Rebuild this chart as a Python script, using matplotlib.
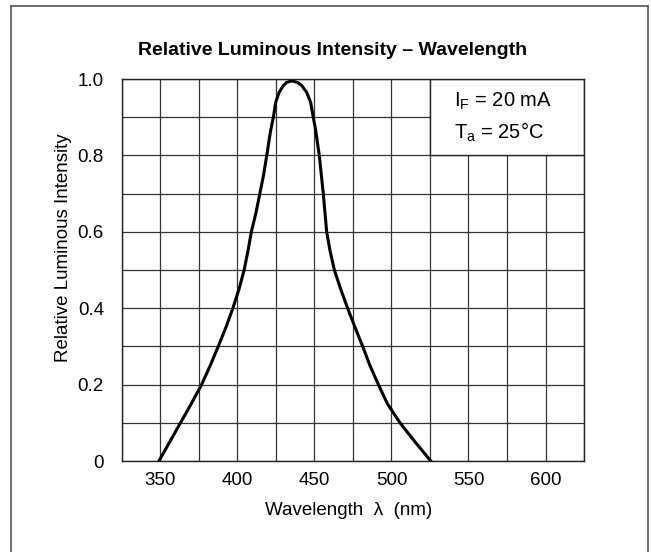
import matplotlib
matplotlib.use("Agg")
from matplotlib import pyplot as plt
from matplotlib.patches import Rectangle
from matplotlib.lines import Line2D

plt.rcParams["font.family"] = ["Liberation Sans", "DejaVu Sans"]

# curve (nm, relative intensity)
wavelength = [349, 356, 363, 370, 376.7, 382.3, 387.5, 392.5, 397, 401,
              404.3, 406.8, 409, 412, 414.5, 417, 419, 421.5, 423.3, 424.8,
              427, 429.8, 431.9, 435.2, 439, 441.7, 444.9, 447.5, 449.2,
              450.8, 453.1, 454.4, 455.7, 456.8, 457.9, 460, 462.9, 467,
              471.5, 476.3, 481.3, 486, 491.5, 497.3, 505.5, 515.3, 525.5]
intensity = [0.0, 0.05, 0.1, 0.15, 0.2, 0.25, 0.3, 0.35, 0.4, 0.45,
             0.5, 0.55, 0.6, 0.65, 0.7, 0.75, 0.8, 0.865, 0.9, 0.939,
             0.965, 0.983, 0.991, 0.995, 0.991, 0.983, 0.965, 0.939, 0.9,
             0.865, 0.8, 0.75, 0.7, 0.65, 0.6, 0.552, 0.5, 0.45,
             0.4, 0.35, 0.3, 0.25, 0.2, 0.15, 0.1, 0.05, 0.0]

x_ticks = [350, 400, 450, 500, 550, 600]
y_ticks = [0, 0.2, 0.4, 0.6, 0.8, 1.0]
y_ticklabels = ["0", "0.2", "0.4", "0.6", "0.8", "1.0"]

W, H = 651, 552
fig = plt.figure(figsize=(W / 100, H / 100), dpi=100)
ax = fig.add_axes([122 / W, 1 - 461 / H, 462 / W, 382 / H])

ax.set_xlim(325, 625)
ax.set_ylim(0, 1.0)
ax.set_xticks(x_ticks)
ax.set_xticks([325 + 25 * i for i in range(13)], minor=True)
ax.set_yticks(y_ticks)
ax.set_yticklabels(y_ticklabels)
ax.set_yticks([0.1 * i for i in range(11)], minor=True)
ax.tick_params(which="both", length=0, labelsize=13.5)
ax.tick_params(axis="x", pad=8)
ax.tick_params(axis="y", pad=13)
ax.set_axisbelow(True)
ax.grid(which="minor", color="#333333", linewidth=0.9)
ax.grid(which="major", color="#333333", linewidth=0.9)
for s in ax.spines.values():
    s.set_linewidth(1.0)
    s.set_color("#222222")

# condition box in the upper right corner covers the grid
ax.add_patch(Rectangle((525, 0.8), 100, 0.2, facecolor="white",
                       edgecolor="#222222", linewidth=1.0, zorder=1))
ax.text(0.7186, 0.9275, r"$\mathregular{I_F}$ = 20 mA", transform=ax.transAxes,
        fontsize=14.5, ha="left", va="baseline", zorder=3)
ax.text(0.7186, 0.8448, r"$\mathregular{T_a}$ = 25°C", transform=ax.transAxes,
        fontsize=14.5, ha="left", va="baseline", zorder=3)

ax.plot(wavelength, intensity, color="black", linewidth=2.2, zorder=2,
        solid_joinstyle="round")

fig.text(333 / W, 1 - 55 / H, "Relative Luminous Intensity – Wavelength",
         fontsize=14, fontweight="bold", ha="center", va="baseline")
fig.text(349 / W, 1 - 515 / H, "Wavelength  λ  (nm)", fontsize=13.5,
         ha="center", va="baseline")
fig.text(63.5 / W, 1 - 248 / H, "Relative Luminous Intensity", fontsize=13.5,
         rotation=90, ha="center", va="center")

# outer frame of the datasheet figure
fc = "#555555"
fig.add_artist(Line2D([11 / W, 11 / W], [0, 1 - 6 / H], color=fc, linewidth=1.2))
fig.add_artist(Line2D([11 / W, 648 / W], [1 - 6 / H, 1 - 6 / H], color=fc, linewidth=1.2))
fig.add_artist(Line2D([648 / W, 648 / W], [0, 1 - 6 / H], color=fc, linewidth=1.2))

fig.savefig("out.png", dpi=100)
